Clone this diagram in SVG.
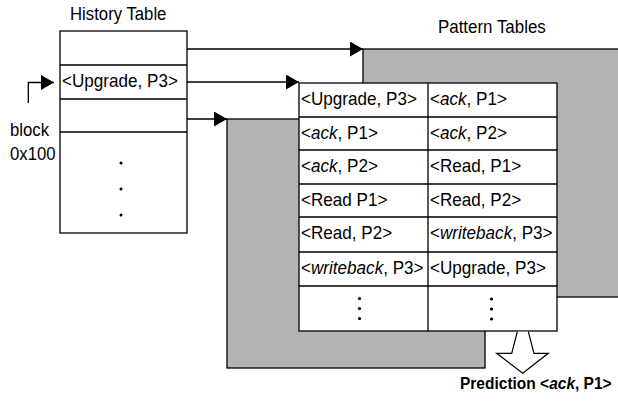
<svg xmlns="http://www.w3.org/2000/svg" width="618" height="404" viewBox="0 0 618 404">
<style>
text{font-family:"Liberation Sans",Arial,sans-serif;font-size:18px;fill:#000}
.b{font-weight:bold;font-size:16.5px}
.i{font-style:italic}
.ln{stroke:#000;stroke-width:1.3;fill:none}
.cell{fill:#fff;stroke:#000;stroke-width:1.3}
.gray{fill:#b3b3b3;stroke:#000;stroke-width:1.3}
</style>
<defs>
<marker id="ah" markerUnits="userSpaceOnUse" markerWidth="14" markerHeight="16" refX="13" refY="7.5" orient="auto">
<path d="M0,0 L13,7.5 L0,15 Z" fill="#000"/>
</marker>
</defs>
<rect width="618" height="404" fill="#fff"/>
<text transform="matrix(0.93,0,0,1,70,20)">History Table</text>
<text transform="matrix(0.94,0,0,1,438,33)">Pattern Tables</text>
<g id="pattern-back">
<rect class="gray" x="363" y="49" width="262" height="248"/>
</g>
<g id="pattern-mid">
<rect class="gray" x="227" y="119" width="258" height="249"/>
</g>
<g id="history-table">
<rect class="cell" x="60" y="31" width="127" height="202"/>
<line class="ln" x1="60" y1="65" x2="187" y2="65"/>
<line class="ln" x1="60" y1="99" x2="187" y2="99"/>
<line class="ln" x1="60" y1="132" x2="187" y2="132"/>
<text transform="matrix(0.95,0,0,1,62,87)">&lt;Upgrade, P3&gt;</text>
<circle cx="121" cy="163" r="1.5"/>
<circle cx="121" cy="189" r="1.5"/>
<circle cx="121" cy="215" r="1.5"/>
</g>
<g id="block-label">
<text transform="matrix(0.93,0,0,1,10,136)">block</text>
<text transform="matrix(0.93,0,0,1,10,160)">0x100</text>
</g>
<g id="pattern-front">
<rect class="cell" x="299" y="83" width="258" height="248"/>
<line class="ln" x1="428" y1="83" x2="428" y2="331"/>
<line class="ln" x1="299" y1="117" x2="557" y2="117"/>
<line class="ln" x1="299" y1="150" x2="557" y2="150"/>
<line class="ln" x1="299" y1="184" x2="557" y2="184"/>
<line class="ln" x1="299" y1="217" x2="557" y2="217"/>
<line class="ln" x1="299" y1="252" x2="557" y2="252"/>
<line class="ln" x1="299" y1="286" x2="557" y2="286"/>
<text transform="matrix(0.95,0,0,1,301,105)">&lt;Upgrade, P3&gt;</text>
<text transform="matrix(0.95,0,0,1,430,105)">&lt;<tspan class="i">ack</tspan>, P1&gt;</text>
<text transform="matrix(0.95,0,0,1,301,139)">&lt;<tspan class="i">ack</tspan>, P1&gt;</text>
<text transform="matrix(0.95,0,0,1,430,139)">&lt;<tspan class="i">ack</tspan>, P2&gt;</text>
<text transform="matrix(0.95,0,0,1,301,172)">&lt;<tspan class="i">ack</tspan>, P2&gt;</text>
<text transform="matrix(0.95,0,0,1,430,172)">&lt;Read, P1&gt;</text>
<text transform="matrix(0.95,0,0,1,301,206)">&lt;Read P1&gt;</text>
<text transform="matrix(0.95,0,0,1,430,206)">&lt;Read, P2&gt;</text>
<text transform="matrix(0.95,0,0,1,301,239)">&lt;Read, P2&gt;</text>
<text transform="matrix(0.95,0,0,1,430,239)">&lt;<tspan class="i">writeback</tspan>, P3&gt;</text>
<text transform="matrix(0.95,0,0,1,301,274)">&lt;<tspan class="i">writeback</tspan>, P3&gt;</text>
<text transform="matrix(0.95,0,0,1,430,274)">&lt;Upgrade, P3&gt;</text>
<circle cx="359.5" cy="298.5" r="1.6"/>
<circle cx="359.5" cy="308.5" r="1.6"/>
<circle cx="359.5" cy="318.5" r="1.6"/>
<circle cx="491.5" cy="299" r="1.6"/>
<circle cx="491.5" cy="309" r="1.6"/>
<circle cx="491.5" cy="319" r="1.6"/>
</g>
<g id="connectors">
<line class="ln" x1="187" y1="49" x2="363" y2="49" marker-end="url(#ah)"/>
<line class="ln" x1="187" y1="82" x2="299" y2="82" marker-end="url(#ah)"/>
<line class="ln" x1="187" y1="119" x2="227" y2="119" marker-end="url(#ah)"/>
<polyline class="ln" points="28.3,103 28.3,82.5 54,82.5" marker-end="url(#ah)"/>
<path d="M517.3,331.7 L511.7,353.3 L496.7,353.3 L522.7,373.3 L548.3,353.3 L534,353.3 L528.3,331.7" fill="#fff" stroke="#000" stroke-width="1.2"/>
</g>
<g id="prediction">
<text class="b" transform="matrix(0.94,0,0,1,460,389)">Prediction &lt;<tspan class="i">ack</tspan>, P1&gt;</text>
</g>
</svg>
